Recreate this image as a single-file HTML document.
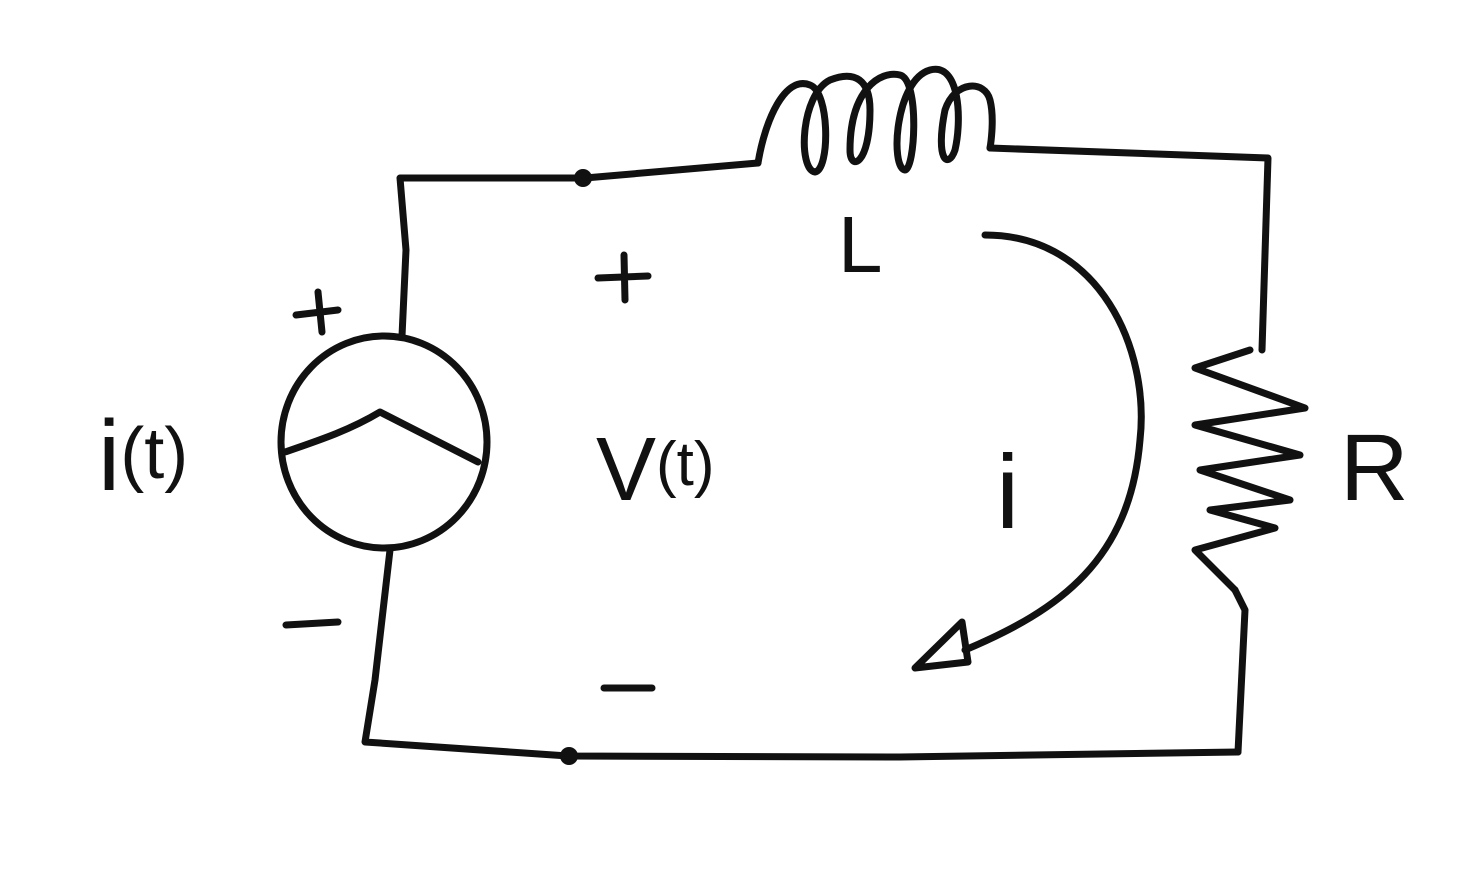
<!DOCTYPE html>
<html><head><meta charset="utf-8"><style>
html,body{margin:0;padding:0;background:#fff;}
svg{display:block;}
text{font-family:"Liberation Sans",sans-serif;fill:#111;}
</style></head><body>
<svg width="1478" height="875" viewBox="0 0 1478 875">
<g fill="none" stroke="#111" stroke-width="7" stroke-linecap="round" stroke-linejoin="round">
  <path d="M402,336 L406,250 L400,178 L585,178 L758,163"/>
  <path d="M758,163 C765,120 785,75 810,85 C830,92 830,170 815,172 C798,170 800,95 830,80 C855,70 870,80 870,110 C870,165 850,172 850,150 C850,90 880,70 900,75 C920,80 915,170 905,170 C890,168 895,80 930,70 C960,62 962,120 955,150 C948,170 935,160 945,110 C955,80 985,80 990,100 C995,120 990,148 990,148"/>
  <path d="M990,148 L1268,158 L1262,350"/>
  <path d="M1250,350 L1195,368 L1305,408 L1195,425 L1300,455 L1200,470 L1290,500 L1210,510 L1275,528 L1195,550 L1235,590"/>
  <path d="M1235,590 L1245,610 L1238,752"/>
  <path d="M1238,752 L900,757 L568,756 L365,742 L375,680 L390,550"/>
  <ellipse cx="384" cy="442" rx="103" ry="106"/>
  <path d="M285,452 C320,440 350,430 380,412 L478,462"/>
  <path d="M985,235 C1100,235 1150,350 1140,440 C1130,560 1060,610 965,650"/>
  <path d="M915,668 L962,622 L968,662 Z"/>
  <line x1="286" y1="625" x2="338" y2="622"/>
  <line x1="604" y1="688" x2="652" y2="688"/>
  <path d="M296,315 L338,310 M318,292 L322,332"/>
  <path d="M598,278 L648,276 M624,255 L625,300"/>
</g>
<circle cx="583" cy="178" r="9" fill="#111"/>
<circle cx="569" cy="756" r="9" fill="#111"/>
<text x="98" y="490" font-size="100">i<tspan font-size="72" dy="-12">(t)</tspan></text>
<text x="596" y="500" font-size="90">V<tspan font-size="62" dy="-15">(t)</tspan></text>
<text x="838" y="272" font-size="80">L</text>
<text x="996" y="528" font-size="105">i</text>
<text x="1340" y="500" font-size="95">R</text>
</svg>
</body></html>
